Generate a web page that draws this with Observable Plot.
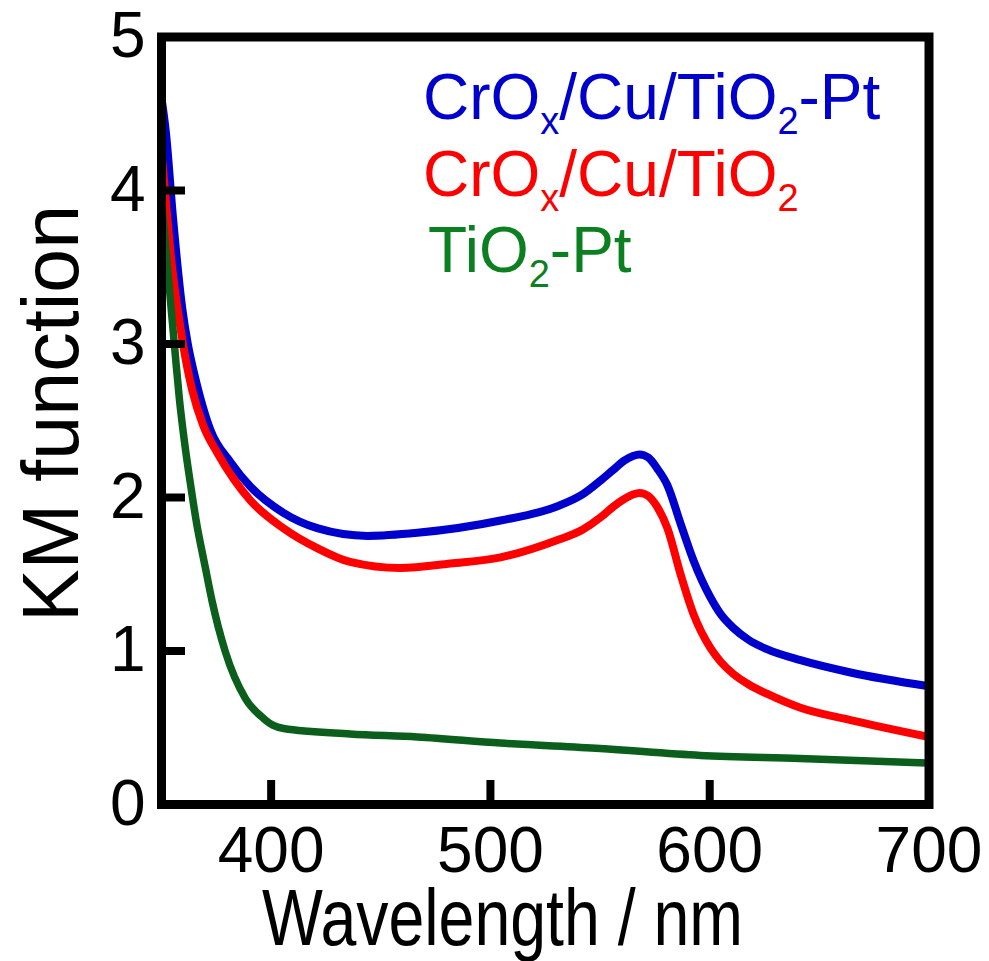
<!DOCTYPE html>
<html><head><meta charset="utf-8">
<script src="https://cdn.jsdelivr.net/npm/d3@7"></script>
<script src="https://cdn.jsdelivr.net/npm/@observablehq/plot@0.6"></script>
<style>body{margin:0;background:#fff} svg{display:block}</style>
</head><body><div id="chart"></div>
<script>
// ---- data ----
const blueWl = [350, 352, 355.2, 359.4, 362, 364.7, 367.5, 372.3, 381.5, 390.6, 405.6, 421, 444, 466.7, 504.6, 530, 542, 550.2, 556, 561, 565, 568, 572, 576, 580.7, 586.7, 592.6, 600.3, 605, 610.8, 618, 626.3, 641.4, 664.2, 700];
const blueKM = [4.6, 4.38, 3.83, 3.24, 3.0, 2.82, 2.66, 2.44, 2.23, 2.07, 1.90, 1.80, 1.75, 1.77, 1.85, 1.94, 2.02, 2.11, 2.18, 2.24, 2.27, 2.28, 2.26, 2.19, 2.08, 1.83, 1.59, 1.35, 1.24, 1.15, 1.07, 1.01, 0.94, 0.86, 0.77];

const redWl = [350, 352, 354, 358.7, 361.7, 364, 369, 375.5, 390.6, 405.6, 421, 436, 459, 481.8, 504.6, 530, 542, 550.2, 556, 561, 565, 568, 572, 576, 580.7, 586.7, 592.6, 600.3, 605, 610.8, 618, 626.3, 641.4, 664.2, 700];
const redKM = [4.25, 3.93, 3.61, 3.10, 2.85, 2.70, 2.47, 2.29, 1.98, 1.80, 1.67, 1.58, 1.54, 1.57, 1.61, 1.72, 1.79, 1.87, 1.94, 1.99, 2.02, 2.03, 2.01, 1.94, 1.80, 1.50, 1.24, 1.02, 0.93, 0.85, 0.78, 0.72, 0.63, 0.55, 0.44];

const greenWl = [350, 352, 354.1, 356.1, 358.1, 360.5, 363.5, 365.8, 369.9, 373, 379, 388.3, 396.6, 401, 405.7, 436, 466.7, 504.6, 550, 595.8, 641, 700];
const greenKM = [3.95, 3.62, 3.28, 2.96, 2.65, 2.36, 2.06, 1.85, 1.55, 1.33, 1.0, 0.69, 0.56, 0.515, 0.495, 0.46, 0.44, 0.40, 0.365, 0.32, 0.30, 0.27];

const seriesNames = ["CrOx/Cu/TiO2-Pt", "CrOx/Cu/TiO2", "TiO2-Pt"];
const lineColors = ["#0000cc", "#ff0000", "#0b5e1b"];
const labelColors = ["#0000cc", "#ff0000", "#0c8020"];
// legend labels split into [text, isSubscript]
const legendParts = [
  [["CrO", 0], ["x", 1], ["/Cu/TiO", 0], ["2", 1], ["-Pt", 0]],
  [["CrO", 0], ["x", 1], ["/Cu/TiO", 0], ["2", 1]],
  [["TiO", 0], ["2", 1], ["-Pt", 0]]
];
const xTickValues = [400, 500, 600];
const xLabelValues = [400, 500, 600, 700];
const yTickValues = [1, 2, 3, 4];
const yLabelValues = [0, 1, 2, 3, 4, 5];
const xTitle = "Wavelength / nm";
const yTitle = "KM function";

// ---- build table ----
const allWl = [blueWl, redWl, greenWl];
const allKM = [blueKM, redKM, greenKM];
const data = seriesNames.flatMap((name, s) => allWl[s].map((w, i) => ({series: name, wl: w, km: allKM[s][i]})));

const lineMarks = seriesNames.map((name, s) =>
  Plot.line(data.filter(d => d.series === name), {
    x: "wl", y: "km", stroke: "series", strokeWidth: s === 2 ? 7.5 : 8,
    curve: "monotone-x", strokeLinejoin: "round"
  })
);

const plot = Plot.plot({
  width: 989, height: 961,
  marginLeft: 161, marginRight: 60.5, marginTop: 36.5, marginBottom: 157,
  style: {fontFamily: "'Liberation Sans', Arial, sans-serif", background: "#fff", color: "#000"},
  x: {domain: [350, 700]},
  y: {domain: [0, 5]},
  color: {domain: seriesNames, range: lineColors},
  marks: [
    ...lineMarks,
    Plot.axisX(xTickValues, {tickSize: -24, strokeWidth: 8, tickFormat: () => "", label: null}),
    Plot.axisY(yTickValues, {tickSize: -24, strokeWidth: 8, tickFormat: () => "", label: null}),
    Plot.axisX(xLabelValues, {tickSize: 0, tickPadding: 22, fontSize: 64, tickFormat: d3.format("d"), label: null}),
    Plot.axisY(yLabelValues, {tickSize: 0, tickPadding: 16, fontSize: 64, tickFormat: d3.format("d"), label: null}),
    Plot.frame({stroke: "#000", strokeWidth: 9})
  ]
});

const svg = d3.select(plot);
svg.append("text")
  .attr("x", 502.5).attr("y", 945)
  .attr("text-anchor", "middle")
  .attr("font-size", 80)
  .attr("textLength", 481).attr("lengthAdjust", "spacingAndGlyphs")
  .attr("fill", "#000")
  .text(xTitle);
svg.append("text")
  .attr("transform", "translate(78,413.5) rotate(-90)")
  .attr("text-anchor", "middle")
  .attr("font-size", 79)
  .attr("fill", "#000")
  .text(yTitle);

const legendX = [423, 423, 428];
const legendY = [119, 196, 272];
legendParts.forEach((parts, i) => {
  const t = svg.append("text")
    .attr("x", legendX[i]).attr("y", legendY[i])
    .attr("text-anchor", "start")
    .attr("font-size", 64)
    .attr("fill", labelColors[i]);
  let sub = false;
  parts.forEach(([txt, isSub]) => {
    const span = t.append("tspan").text(txt);
    if (isSub && !sub) { span.attr("dy", 15).attr("font-size", 38); sub = true; }
    else if (isSub) { span.attr("font-size", 38); }
    else if (sub) { span.attr("dy", -15); sub = false; }
  });
});

document.getElementById("chart").appendChild(plot);
</script>
</body></html>
